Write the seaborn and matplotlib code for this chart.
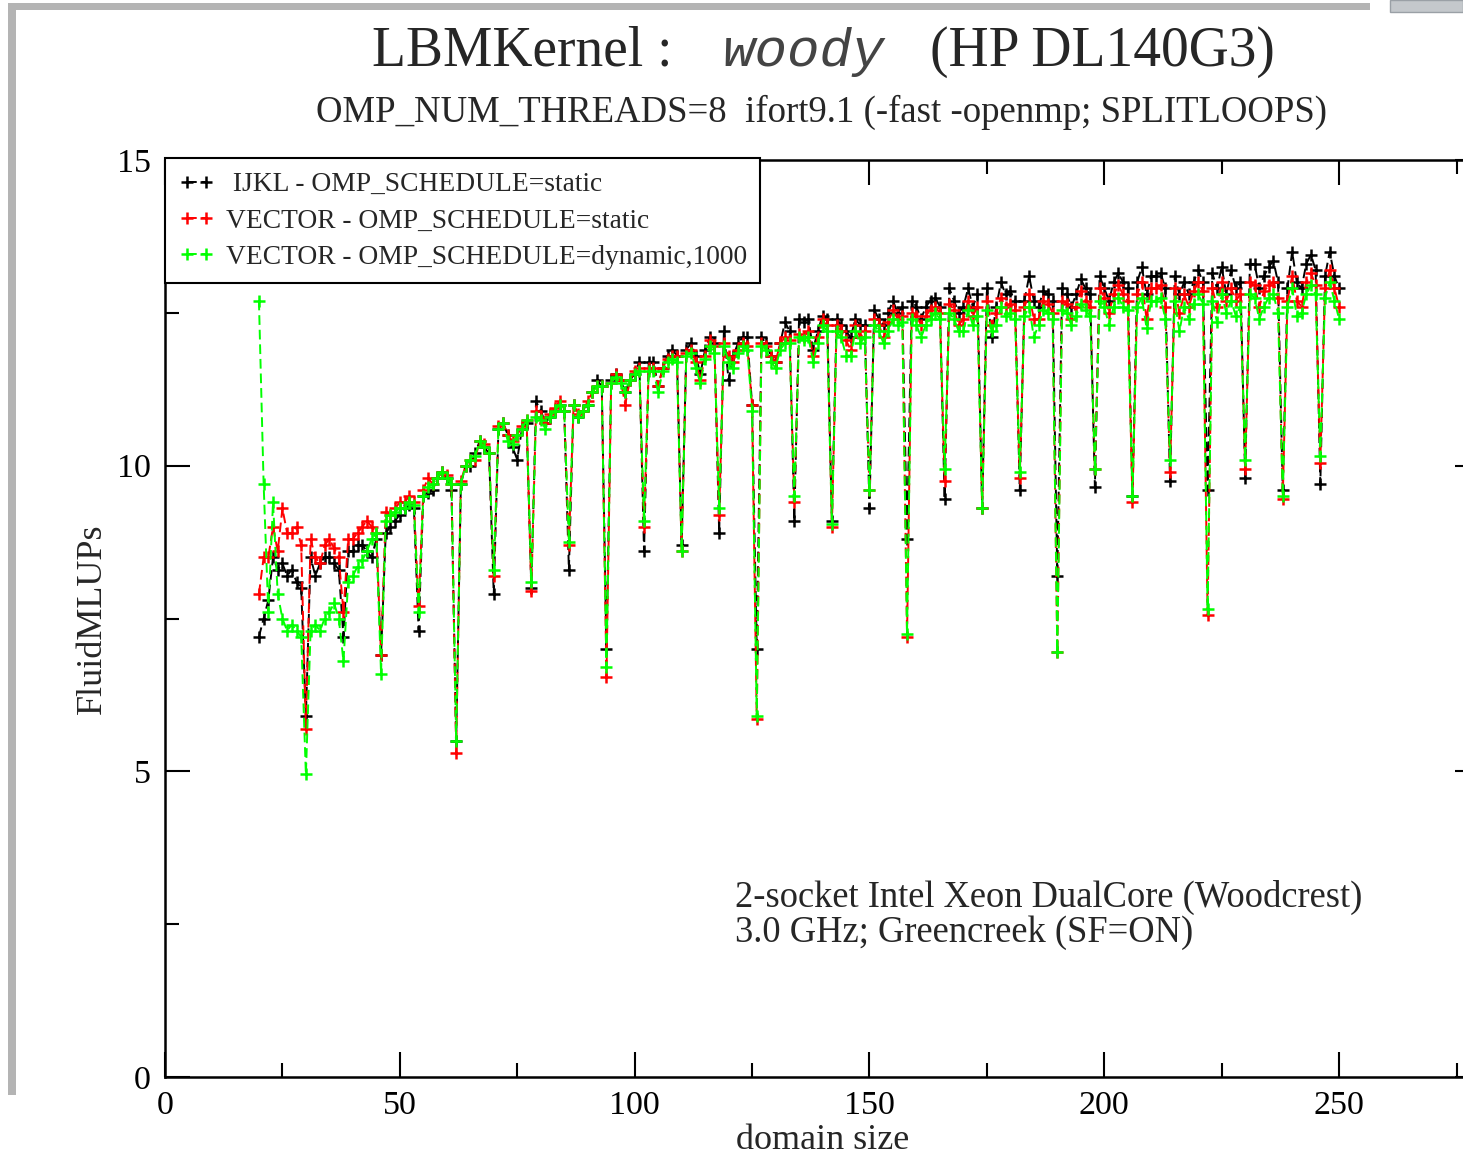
import numpy as np
import pandas as pd
import matplotlib
matplotlib.use("Agg")
import matplotlib.pyplot as plt
from matplotlib.patches import Rectangle
from matplotlib.ticker import MultipleLocator
import seaborn as sns

# domain sizes 20..250, one point each
domain_size = np.arange(20, 251)

ijkl_static = [
    7.2, 7.5, 7.8, 8.5, 8.3, 8.4, 8.2, 8.3, 8.1, 8.0,
    5.9, 8.5, 8.2, 8.4, 8.5, 8.5, 8.4, 8.3, 7.2, 8.6,
    8.6, 8.7, 8.7, 8.6, 8.5, 8.8, 6.9, 8.9, 9.0, 9.1,
    9.2, 9.3, 9.35, 9.3, 7.3, 9.5, 9.55, 9.6, 9.8, 9.9,
    9.8, 9.6, 5.5, 9.7, 10.0, 10.0, 10.2, 10.4, 10.3, 10.2,
    7.9, 10.6, 10.7, 10.5, 10.3, 10.1, 10.6, 10.7, 8.0, 11.05,
    10.9, 10.7, 10.8, 10.9, 11.0, 10.9, 8.3, 11.0, 10.8, 10.9,
    11.0, 11.2, 11.4, 11.3, 7.0, 11.4, 11.5, 11.4, 11.2, 11.4,
    11.5, 11.7, 8.6, 11.7, 11.7, 11.3, 11.6, 11.8, 11.9, 11.8,
    8.7, 11.9, 12.0, 11.8, 11.5, 11.9, 12.1, 12.0, 8.9, 12.2,
    11.4, 11.8, 12.0, 12.1, 12.1, 11.0, 7.0, 12.1, 12.0, 11.8,
    11.7, 12.0, 12.35, 12.2, 9.1, 12.4, 12.35, 12.4, 11.9, 12.2,
    12.45, 12.4, 9.1, 12.4, 12.3, 12.2, 12.1, 12.4, 12.3, 12.3,
    9.3, 12.55, 12.4, 12.3, 12.5, 12.7, 12.5, 12.6, 8.8, 12.7,
    12.6, 12.4, 12.6, 12.7, 12.75, 12.6, 9.45, 12.9, 12.7, 12.5,
    12.6, 12.9, 12.6, 12.8, 9.3, 12.9, 12.1, 12.6, 13.0, 12.8,
    12.85, 12.7, 9.6, 12.7, 13.1, 12.7, 12.6, 12.85, 12.8, 12.7,
    8.2, 12.9, 12.8, 12.6, 12.8, 13.05, 12.9, 12.8, 9.65, 13.1,
    12.9, 12.7, 13.0, 13.15, 13.0, 12.9, 9.5, 13.0, 13.25, 12.8,
    13.1, 13.1, 13.15, 12.9, 9.75, 13.1, 12.8, 13.0, 12.8, 13.0,
    13.2, 13.0, 9.6, 13.15, 12.9, 13.25, 12.8, 13.2, 12.9, 13.0,
    9.8, 13.3, 13.3, 12.9, 13.1, 13.25, 13.35, 13.0, 9.6, 12.9,
    13.5, 13.0, 12.9, 13.3, 13.45, 13.2, 9.7, 13.1, 13.5, 13.1,
    12.9,
]

vector_static = [
    7.9, 8.5, 8.5, 9.0, 8.6, 9.3, 8.9, 8.9, 9.0, 8.7,
    5.7, 8.8, 8.5, 8.4, 8.7, 8.8, 8.65, 8.5, 7.6, 8.8,
    8.8, 8.9, 9.0, 9.1, 9.0, 8.9, 6.9, 9.25, 9.2, 9.3,
    9.4, 9.4, 9.5, 9.4, 7.7, 9.6, 9.8, 9.7, 9.8, 9.9,
    9.85, 9.7, 5.3, 9.75, 10.0, 10.1, 10.1, 10.4, 10.35, 10.2,
    8.2, 10.65, 10.7, 10.5, 10.4, 10.5, 10.65, 10.75, 7.95, 10.9,
    10.8, 10.7, 10.85, 10.95, 11.05, 10.9, 8.7, 11.0, 10.85, 10.9,
    11.05, 11.2, 11.3, 11.3, 6.55, 11.35, 11.5, 11.4, 11.0, 11.4,
    11.55, 11.6, 9.0, 11.6, 11.6, 11.3, 11.6, 11.75, 11.8, 11.8,
    8.6, 11.85, 11.9, 11.7, 11.4, 11.8, 12.05, 11.95, 9.2, 12.0,
    11.8, 11.7, 11.9, 12.0, 11.95, 11.0, 5.85, 12.0, 11.95, 11.8,
    11.7, 12.0, 12.1, 12.05, 9.4, 12.15, 12.1, 12.2, 11.8, 12.1,
    12.4, 12.3, 9.0, 12.3, 12.2, 12.05, 11.9, 12.3, 12.1, 12.2,
    9.6, 12.4, 12.3, 12.1, 12.35, 12.55, 12.4, 12.45, 7.2, 12.5,
    12.45, 12.3, 12.45, 12.55, 12.6, 12.5, 9.75, 12.65, 12.55, 12.3,
    12.4, 12.7, 12.45, 12.6, 9.3, 12.7, 12.3, 12.5, 12.75, 12.6,
    12.65, 12.55, 9.8, 12.6, 12.8, 12.4, 12.4, 12.7, 12.65, 12.5,
    6.95, 12.7, 12.65, 12.4, 12.6, 12.85, 12.7, 12.6, 9.95, 12.9,
    12.75, 12.5, 12.8, 12.95, 12.8, 12.7, 9.4, 12.8, 13.0, 12.4,
    12.9, 12.9, 12.95, 12.6, 9.9, 12.9, 12.5, 12.8, 12.6, 12.85,
    13.0, 12.85, 7.55, 12.9, 12.6, 13.0, 12.7, 12.9, 12.7, 12.8,
    9.95, 13.0, 12.95, 12.6, 12.85, 12.95, 13.0, 12.75, 9.45, 12.7,
    13.1, 12.7, 12.6, 13.0, 13.15, 12.95, 10.05, 12.9, 13.2, 12.9,
    12.6,
]

vector_dynamic = [
    12.7, 9.7, 7.6, 9.4, 7.9, 7.5, 7.3, 7.4, 7.3, 7.2,
    4.95, 7.3, 7.4, 7.3, 7.5, 7.6, 7.75, 7.5, 6.8, 8.1,
    8.2, 8.35, 8.45, 8.6, 8.8, 8.9, 6.6, 9.1, 9.2, 9.25,
    9.3, 9.3, 9.4, 9.35, 7.6, 9.5, 9.65, 9.7, 9.8, 9.9,
    9.8, 9.7, 5.5, 9.7, 10.0, 10.1, 10.15, 10.4, 10.3, 10.2,
    8.3, 10.6, 10.7, 10.4, 10.35, 10.5, 10.6, 10.75, 8.1, 10.8,
    10.75, 10.6, 10.8, 10.9, 11.0, 10.9, 8.75, 11.0, 10.8, 10.9,
    11.0, 11.2, 11.3, 11.3, 6.7, 11.35, 11.45, 11.35, 11.2, 11.4,
    11.5, 11.55, 9.1, 11.55, 11.55, 11.2, 11.55, 11.7, 11.75, 11.7,
    8.6, 11.8, 11.85, 11.6, 11.35, 11.75, 11.95, 11.85, 9.3, 11.95,
    11.7, 11.6, 11.85, 11.95, 11.9, 10.9, 5.9, 11.95, 11.9, 11.7,
    11.6, 11.9, 12.0, 12.0, 9.5, 12.1, 12.05, 12.1, 11.7, 12.0,
    12.3, 12.2, 9.05, 12.2, 12.1, 11.8, 11.8, 12.2, 12.0, 12.1,
    9.6, 12.3, 12.2, 12.0, 12.2, 12.4, 12.3, 12.35, 7.25, 12.4,
    12.3, 12.1, 12.3, 12.4, 12.5, 12.4, 9.95, 12.5, 12.4, 12.2,
    12.2, 12.55, 12.3, 12.45, 9.3, 12.55, 12.2, 12.3, 12.6, 12.45,
    12.5, 12.4, 9.9, 12.45, 12.6, 12.1, 12.3, 12.55, 12.5, 12.4,
    6.95, 12.55, 12.5, 12.3, 12.45, 12.65, 12.55, 12.45, 9.95, 12.7,
    12.6, 12.3, 12.6, 12.75, 12.6, 12.55, 9.5, 12.6, 12.75, 12.25,
    12.7, 12.7, 12.75, 12.4, 10.1, 12.7, 12.2, 12.6, 12.4, 12.65,
    12.8, 12.65, 7.65, 12.7, 12.35, 12.8, 12.5, 12.7, 12.45, 12.6,
    10.1, 12.8, 12.75, 12.4, 12.6, 12.75, 12.8, 12.5, 9.5, 12.6,
    12.9, 12.45, 12.5, 12.8, 12.95, 12.8, 10.15, 12.75, 13.0, 12.7,
    12.4,
]

series_labels = [
    " IJKL - OMP_SCHEDULE=static",
    "VECTOR - OMP_SCHEDULE=static",
    "VECTOR - OMP_SCHEDULE=dynamic,1000",
]
series_colors = ["black", "#ff0000", "#00ff00"]

sns.set_style("white")
plt.rcParams["font.family"] = ["Liberation Serif", "DejaVu Serif"]

W, H = 1463, 1160
fig = plt.figure(figsize=(W / 100, H / 100), dpi=100)
ax = fig.add_axes([165 / W, 1 - 1077 / H, (1480 - 165) / W, (1077 - 160) / H])

for vals, lab, col in zip([ijkl_static, vector_static, vector_dynamic], series_labels, series_colors):
    df = pd.DataFrame({"domain size": domain_size, "FluidMLUPs": vals})
    sns.lineplot(data=df, x="domain size", y="FluidMLUPs", ax=ax, color=col, label=lab,
                 estimator=None, marker="+", markersize=8, mew=1.8, mec=col,
                 linewidth=1.4, linestyle=(0, (5, 2.5)))

ax.set_xlim(0, 280)
ax.set_ylim(0, 15)
ax.xaxis.set_major_locator(MultipleLocator(50))
ax.xaxis.set_minor_locator(MultipleLocator(25))
ax.yaxis.set_major_locator(MultipleLocator(5))
ax.yaxis.set_minor_locator(MultipleLocator(2.5))
ax.tick_params(which="both", direction="in", bottom=True, left=True, top=True, right=True,
               width=1.5, colors="black")
ax.tick_params(which="major", length=18, labelsize=24.5, pad=10)
ax.tick_params(which="minor", length=10)
for sp in ax.spines.values():
    sp.set_linewidth(1.8)
    sp.set_color("black")

ax.set_xlabel("domain size", fontsize=26, labelpad=2)
ax.set_ylabel("FluidMLUPs", fontsize=26, labelpad=6)

leg = ax.legend(loc="upper left", bbox_to_anchor=(0, 1.002), borderaxespad=0,
                fontsize=19.8, numpoints=2, handlelength=1.3, handletextpad=0.4,
                labelspacing=0.4, borderpad=0.5, fancybox=False, framealpha=1,
                edgecolor="black")
leg.get_frame().set_linewidth(1.5)

# title pieces
fig.text(372 / W, 1 - 52 / H, "LBMKernel :", fontsize=40, ha="left", va="center")
fig.text(722 / W, 1 - 52 / H, "woody", fontsize=39, ha="left", va="center",
         family="Liberation Mono", style="italic", color="#444444")
fig.text(930 / W, 1 - 52 / H, "(HP DL140G3)", fontsize=40, ha="left", va="center")
fig.text(822 / W, 1 - 112 / H, "OMP_NUM_THREADS=8  ifort9.1 (-fast -openmp; SPLITLOOPS)",
         fontsize=26.5, ha="center", va="center")

# machine note
fig.text(735 / W, 1 - 897 / H, "2-socket Intel Xeon DualCore (Woodcrest)",
         fontsize=26.3, ha="left", va="center")
fig.text(735 / W, 1 - 933 / H, "3.0 GHz; Greencreek (SF=ON)",
         fontsize=26.3, ha="left", va="center")

# screenshot frame remnants
fig.add_artist(Rectangle((8 / W, 1 - 10 / H), (1370 - 8) / W, 7 / H, transform=fig.transFigure,
                         facecolor="#b4b4b4", edgecolor="none"))
fig.add_artist(Rectangle((8 / W, 1 - 1095 / H), 8 / W, (1095 - 3) / H, transform=fig.transFigure,
                         facecolor="#b4b4b4", edgecolor="none"))
fig.add_artist(Rectangle((1390 / W, 1 - 12 / H), 73 / W, 12 / H, transform=fig.transFigure,
                         facecolor="#c4c8cc", edgecolor="#9aa0a6"))

fig.savefig("out.png", dpi=100)
